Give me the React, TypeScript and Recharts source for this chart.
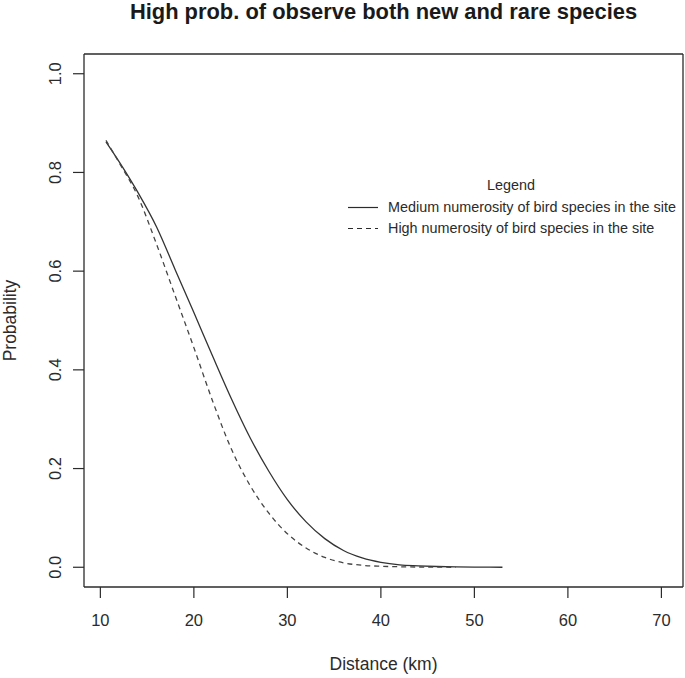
import React from 'react';
import { LineChart, Line, XAxis, YAxis, Legend } from 'recharts';

const FONT = '"Liberation Sans", Arial, Helvetica, sans-serif';
const INK = '#2b2b2b';

const title = 'High prob. of observe both new and rare species';
const xTitle = 'Distance (km)';
const yTitle = 'Probability';
const legendTitle = 'Legend';
const seriesNames = [
  'Medium numerosity of bird species in the site',
  'High numerosity of bird species in the site',
];

const distances = [10.6, 12, 14, 16, 18, 20, 22, 24, 26, 28, 30, 32, 34, 36, 38, 40, 42, 44, 46, 48, 50, 53];
const mediumProb = [0.862, 0.822, 0.760, 0.690, 0.603, 0.516, 0.428, 0.342, 0.263, 0.195, 0.137, 0.092, 0.058, 0.034, 0.019, 0.010, 0.005, 0.003, 0.0015, 0.0007, 0.0003, 0.0];
const highProb: (number | null)[] = [0.865, 0.820, 0.752, 0.655, 0.550, 0.445, 0.337, 0.240, 0.166, 0.110, 0.068, 0.039, 0.020, 0.009, 0.004, 0.002, 0.001, 0.0005, 0.0002, 0.0, null, null];

const xTicks = [10, 20, 30, 40, 50, 60, 70];
const yTicks = [0, 0.2, 0.4, 0.6, 0.8, 1.0];
const yTickLabels = ['0.0', '0.2', '0.4', '0.6', '0.8', '1.0'];
const xDomain = [8.25, 72.31];
const yDomain = [-0.04, 1.04];

const data = distances.map((d, i) => ({ d, medium: mediumProb[i], high: highProb[i] }));

const TICK_FS = 16.5;

const YTick = (props: any) => {
  const { x, y, payload } = props;
  const idx = yTicks.findIndex((t) => Math.abs(t - payload.value) < 1e-9);
  return (
    <text
      x={x}
      y={y}
      transform={`rotate(-90 ${x} ${y})`}
      textAnchor="middle"
      dominantBaseline="central"
      fontSize={TICK_FS}
      fontFamily={FONT}
      fill={INK}
    >
      {idx >= 0 ? yTickLabels[idx] : String(payload.value)}
    </text>
  );
};

const YTitle = (props: any) => {
  const vb = props.viewBox;
  const cx = vb.x + 10;
  const cy = vb.y + vb.height / 2;
  return (
    <text x={cx} y={cy} transform={`rotate(-90 ${cx} ${cy})`} textAnchor="middle" dominantBaseline="central" fontSize={17.5} fontFamily={FONT} fill={INK}>
      {yTitle}
    </text>
  );
};

const XTitle = (props: any) => {
  const vb = props.viewBox;
  return (
    <text x={vb.x + vb.width / 2} y={vb.y + 83} textAnchor="middle" fontSize={17.5} fontFamily={FONT} fill={INK}>
      {xTitle}
    </text>
  );
};

const MainTitle = (props: any) => {
  const vb = props.viewBox;
  return (
    <text x={vb.x + vb.width / 2} y={vb.y + vb.height - 35} textAnchor="middle" fontSize={21.9} fontWeight="bold" fontFamily={FONT} fill="#1a1a1a">
      {title}
    </text>
  );
};

const LegendContent = () => (
  <div style={{ position: 'relative', width: 345, height: 64, fontFamily: FONT, fontSize: 14.4, color: INK }}>
    <div style={{ position: 'absolute', left: 0, width: 342, top: 0, height: 21, lineHeight: '21px', textAlign: 'center' }}>{legendTitle}</div>
    {seriesNames.map((name, i) => (
      <div key={name} style={{ position: 'absolute', left: 0, top: 22 + i * 21, height: 21, lineHeight: '21px', whiteSpace: 'nowrap' }}>
        <svg width={48} height={21} style={{ position: 'absolute', left: 0, top: 0 }}>
          <line x1={8} x2={38} y1={10.5} y2={10.5} stroke={INK} strokeWidth={1.2} strokeDasharray={i === 1 ? '5 4' : undefined} />
        </svg>
        <span style={{ position: 'absolute', left: 48, top: 0 }}>{name}</span>
      </div>
    ))}
  </div>
);

export default function App() {
  return (
    <div style={{ position: 'absolute', left: 0, top: 0, background: '#fff' }}>
      <LineChart width={685} height={678} data={data} margin={{ top: 52, right: 1, bottom: 0, left: 0 }} style={{ fontFamily: FONT }}>
        <XAxis
          dataKey="d"
          type="number"
          domain={xDomain}
          ticks={xTicks}
          allowDataOverflow
          height={91}
          tickSize={11}
          tickMargin={16}
          stroke={INK}
          axisLine={{ stroke: INK, strokeWidth: 1.3 }}
          tickLine={{ stroke: INK, strokeWidth: 1.2 }}
          tick={{ fontSize: TICK_FS, fill: INK, fontFamily: FONT }}
          label={XTitle}
        />
        <XAxis
          xAxisId="top"
          orientation="top"
          dataKey="d"
          type="number"
          domain={xDomain}
          allowDataOverflow
          height={2}
          tick={false}
          tickLine={false}
          axisLine={{ stroke: INK, strokeWidth: 1.3 }}
          label={MainTitle}
        />
        <YAxis
          type="number"
          domain={yDomain}
          ticks={yTicks}
          allowDataOverflow
          width={84}
          tickSize={11}
          tickMargin={17.5}
          axisLine={{ stroke: INK, strokeWidth: 1.3 }}
          tickLine={{ stroke: INK, strokeWidth: 1.2 }}
          tick={YTick}
          label={YTitle}
        />
        <YAxis
          yAxisId="right"
          orientation="right"
          type="number"
          domain={yDomain}
          allowDataOverflow
          width={1}
          tick={false}
          tickLine={false}
          axisLine={{ stroke: INK, strokeWidth: 1.3 }}
        />
        <Legend
          layout="vertical"
          align="center"
          verticalAlign="middle"
          content={LegendContent}
          wrapperStyle={{ position: 'absolute', left: 340, top: 175, width: 345, height: 64 }}
        />
        <Line type="monotone" dataKey="medium" name={seriesNames[0]} stroke="#333" strokeWidth={1.3} dot={false} isAnimationActive={false} connectNulls={false} />
        <Line type="monotone" dataKey="high" name={seriesNames[1]} stroke="#444" strokeWidth={1.3} strokeDasharray="5 4" dot={false} isAnimationActive={false} connectNulls={false} />
      </LineChart>
    </div>
  );
}
